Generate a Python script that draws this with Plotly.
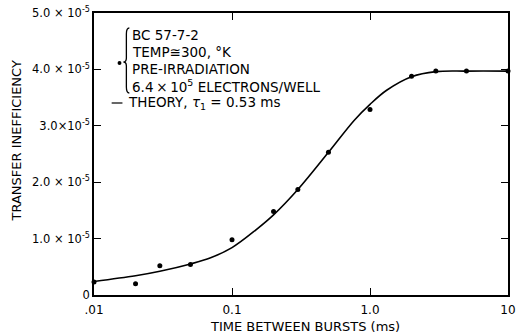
import plotly.graph_objects as go

# measured data points
time_ms = [0.01, 0.02, 0.03, 0.05, 0.1, 0.2, 0.3, 0.5, 1.0, 2.0, 3.0, 5.0, 10.0]
ineff = [0.23e-5, 0.20e-5, 0.52e-5, 0.54e-5, 0.98e-5, 1.48e-5, 1.87e-5, 2.53e-5,
         3.29e-5, 3.88e-5, 3.97e-5, 3.97e-5, 3.97e-5]

# theory curve
theory_t = [0.01, 0.02, 0.03, 0.05, 0.07, 0.1, 0.15, 0.2, 0.3, 0.5, 0.77, 1.0, 1.32, 2.0, 3.0, 5.0, 10.0]
theory_y = [0.24e-5, 0.34e-5, 0.42e-5, 0.55e-5, 0.66e-5, 0.84e-5, 1.16e-5, 1.42e-5, 1.87e-5,
            2.53e-5, 3.10e-5, 3.38e-5, 3.63e-5, 3.87e-5, 3.96e-5, 3.97e-5, 3.97e-5]

x_tickvals = [0.01, 0.1, 1.0, 10]
x_ticktext = [".01", "0.1", "1.0", "10"]
y_tickvals = [0, 1e-5, 2e-5, 3e-5, 4e-5, 5e-5]
y_ticktext = ["0", "1.0 × 10<sup>-5</sup>", "2.0 × 10<sup>-5</sup>", "3.0×10<sup>-5</sup>",
              "4.0 × 10<sup>-5</sup>", "5.0 × 10<sup>-5</sup>"]

legend_lines = ["BC 57-7-2", "TEMP≅300, °K", "PRE-IRRADIATION",
                "6.4\u2009×\u200910<sup>5</sup> ELECTRONS/WELL"]
theory_label = "THEORY, <i>τ</i><sub>1</sub> = 0.53 ms"

FONT = "DejaVu Sans, sans-serif"

fig = go.Figure()
fig.add_trace(go.Scatter(x=theory_t, y=theory_y, mode="lines",
                         line=dict(color="black", width=1.6, shape="spline", smoothing=1.0), hoverinfo="skip"))
fig.add_trace(go.Scatter(x=time_ms, y=ineff, mode="markers", marker=dict(color="black", size=5), cliponaxis=False))

W, H = 521, 333
L, R, T, B = 94, 5, 13, 38
pw, ph = W - L - R, H - T - B

def px(xp):
    return (xp - L) / pw

def py(yp):
    return (H - B - yp) / ph

annotations = []
for txt, yy in zip(legend_lines, [35, 52, 69, 86]):
    annotations.append(dict(xref="paper", yref="paper", x=px(131), y=py(yy), text=txt,
                            showarrow=False, xanchor="left", yanchor="middle",
                            font=dict(family=FONT, size=13.5, color="black")))
annotations.append(dict(xref="paper", yref="paper", x=px(127), y=py(103), text=theory_label,
                        showarrow=False, xanchor="left", yanchor="middle",
                        font=dict(family=FONT, size=13.5, color="black")))
annotations.append(dict(xref="paper", yref="paper", x=px(309), y=py(326), text="TIME BETWEEN BURSTS (ms)",
                        showarrow=False, xanchor="center", yanchor="middle",
                        font=dict(family=FONT, size=13, color="black")))
annotations.append(dict(xref="paper", yref="paper", x=px(15), y=py(141), text="TRANSFER INEFFICIENCY",
                        showarrow=False, xanchor="center", yanchor="middle", textangle=-90,
                        font=dict(family=FONT, size=13, color="black")))

shapes = []
# brace
bx, by0, by1, bym = 127, 28, 93, 62
path = (f"M {px(bx+3)},{py(by0)} Q {px(bx)},{py(by0)} {px(bx)},{py(by0+6)} "
        f"L {px(bx)},{py(bym-4)} Q {px(bx)},{py(bym)} {px(bx-3)},{py(bym)} "
        f"Q {px(bx)},{py(bym)} {px(bx)},{py(bym+4)} "
        f"L {px(bx)},{py(by1-6)} Q {px(bx)},{py(by1)} {px(bx+3)},{py(by1)}")
shapes.append(dict(type="path", xref="paper", yref="paper", path=path, line=dict(color="black", width=1.3)))
# legend dot
shapes.append(dict(type="circle", xref="paper", yref="paper", x0=px(118), x1=px(122), y0=py(61), y1=py(65),
                   fillcolor="black", line=dict(color="black", width=0)))
# legend line
shapes.append(dict(type="line", xref="paper", yref="paper", x0=px(112), x1=px(123), y0=py(103), y1=py(103),
                   line=dict(color="black", width=1.2)))

fig.update_layout(
    width=W, height=H, margin=dict(l=L, r=R, t=T, b=B),
    paper_bgcolor="white", plot_bgcolor="white", showlegend=False,
    annotations=annotations, shapes=shapes,
    font=dict(family=FONT, size=12, color="black"),
    xaxis=dict(type="log", range=[-2, 1], tickvals=x_tickvals, ticktext=x_ticktext,
               showgrid=False, zeroline=False, showline=True, linecolor="black", linewidth=1.5,
               mirror="ticks", ticks="inside", ticklen=7, tickcolor="black", tickwidth=1.2,
               ticklabeloverflow="allow", ticklabelstandoff=3,
               tickfont=dict(family=FONT, size=12, color="black")),
    yaxis=dict(range=[0, 5e-5], tickvals=y_tickvals, ticktext=y_ticktext,
               showgrid=False, zeroline=False, showline=True, linecolor="black", linewidth=1.5,
               mirror="ticks", ticks="inside", ticklen=7, tickcolor="black", tickwidth=1.2,
               tickfont=dict(family=FONT, size=11.5, color="black")),
)

fig.write_html("out.html")
